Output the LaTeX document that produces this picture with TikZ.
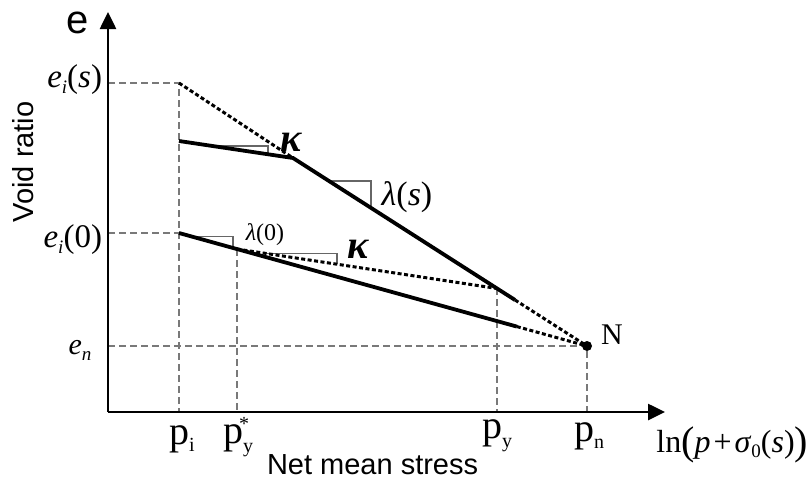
\documentclass[tikz,border=0pt]{standalone}
\usepackage{fontspec}
\setmainfont{Liberation Serif}
\newfontfamily\arialf{Liberation Sans}
\usetikzlibrary{calc,arrows.meta}
\newcommand\fs[1]{\fontsize{#1}{#1}\selectfont}
\newcommand\lsub[3]{\raisebox{-#1}{\fs{#2}#3}}
\tikzset{
  axisline/.style={line width=2.6pt,-{Triangle[length=17pt,width=16pt]}},
  guide/.style={gray!95!black,line width=1.3pt,dash pattern=on 7pt off 4pt},
  curve/.style={line width=3.8pt},
  dotcurve/.style={line width=3pt,dash pattern=on 4pt off 2.5pt},
  slope/.style={gray!80!black,line width=1.3pt},
  lbl/.style={inner sep=0pt,outer sep=0pt},
}
\begin{document}
\begin{tikzpicture}[x=1pt,y=-1pt]
\useasboundingbox (0,0) rectangle (809,480);
% key points
\coordinate (O) at (108,412);
\coordinate (ytip) at (108,12);
\coordinate (xtip) at (665,412);
\coordinate (Eis) at (179,83);
\coordinate (A) at (179,141);
\coordinate (K) at (293,158);
\coordinate (N) at (587,346);
\coordinate (B) at (179,233);
\coordinate (Py) at ($(K)!0.694!(N)$);
\coordinate (Pys) at ($(B)!0.142!(N)$);
\coordinate (Uend) at ($(K)!0.755!(N)$);
\coordinate (Lend) at ($(B)!0.828!(N)$);
% axis feet
\coordinate (yEis) at (108,83);
\coordinate (yB) at (108,233);
\coordinate (yN) at (108,346);
\coordinate (xPi) at (179,412);
\coordinate (xPys) at (Pys |- O);
\coordinate (xPy) at (Py |- O);
\coordinate (xN) at (N |- O);
% guides
\draw[guide] (yEis) -- (Eis) -- (xPi);
\draw[guide] (yB) -- (B);
\draw[guide] (yN) -- (N) -- (xN);
\draw[guide] (Pys) -- (xPys);
\draw[guide] (Py) -- (xPy);
% slope triangles
\coordinate (s1a) at ($(A)!0.294!(K)$);
\coordinate (s1b) at ($(A)!0.781!(K)$);
\coordinate (s2a) at ($(K)!0.122!(N)$);
\coordinate (s2b) at ($(K)!0.265!(N)$);
\coordinate (s3a) at ($(B)!0.034!(N)$);
\coordinate (s3b) at ($(B)!0.132!(N)$);
\coordinate (s4a) at ($(Pys)!0.104!(Py)$);
\coordinate (s4b) at ($(Pys)!0.385!(Py)$);
\draw[slope] (s1a) -| (s1b);
\draw[slope] (s2a) -| (s2b);
\draw[slope] (s3a) -| (s3b);
\draw[slope] (s4a) -| (s4b);
% curves
\draw[curve] (A) -- (K) -- (Uend);
\draw[curve] (B) -- (Lend);
\draw[dotcurve] (Eis) -- (K);
\draw[dotcurve] (Uend) -- (N);
\draw[dotcurve] (Lend) -- (N);
\draw[dotcurve] (Pys) -- (Py);
\fill (N) circle (5pt);
% axes
\draw[axisline] (O) -- (ytip);
\draw[axisline] (O) -- (xtip);
% labels
\node[lbl] (le) at (78,23) {\arialf\fs{40}e};
\node[lbl,rotate=90] (lvr) at (23,162) {\arialf\fs{29}Void ratio};
\node[lbl,anchor=base west] (lnms) at (267,474) {\arialf\fs{29}Net mean stress};
\node[lbl,anchor=east] (leis) at (102,80) {\fs{33}\textit{e}\lsub{6pt}{19}{\itshape i}(\textit{s})};
\node[lbl,anchor=east] (lei0) at (102,240) {\fs{33}\textit{e}\lsub{6pt}{19}{\itshape i}(0)};
\node[lbl] (len) at (80,350) {\fs{30}\textit{e}\lsub{6pt}{19}{\itshape n}};
\node[lbl] (lpi) at (182,439) {\fs{40}p\lsub{7pt}{20}{i}};
\node[lbl] (lpys) at (238,441) {\fs{40}p\lsub{9pt}{20}{y}};
\node[lbl] (lstar) at (244,424) {\fs{20}*};
\node[lbl] (lpy) at (497,436) {\fs{40}p\lsub{9pt}{20}{y}};
\node[lbl] (lpn) at (589,436) {\fs{40}p\lsub{7pt}{20}{n}};
\node[lbl,anchor=east] (lln) at (808,445) {\fs{32}ln\raisebox{-2pt}{\fs{40}(}\textit{p}\hspace{3pt}+\hspace{3pt}\textit{σ}\lsub{5pt}{19}{0}(\textit{s})\raisebox{-2pt}{\fs{40})}};
\node[lbl] (lN) at (612,335) {\fs{30}N};
\node[lbl] (lk1) at (291,142) {\fs{40}\bfseries\itshape κ};
\node[lbl] (lls) at (407,197) {\fs{34}\textit{λ}(\textit{s})};
\node[lbl] (ll0) at (265,235) {\fs{24}\textit{λ}(0)};
\node[lbl] (lk2) at (358,249) {\fs{40}\bfseries\itshape κ};
\end{tikzpicture}
\end{document}
